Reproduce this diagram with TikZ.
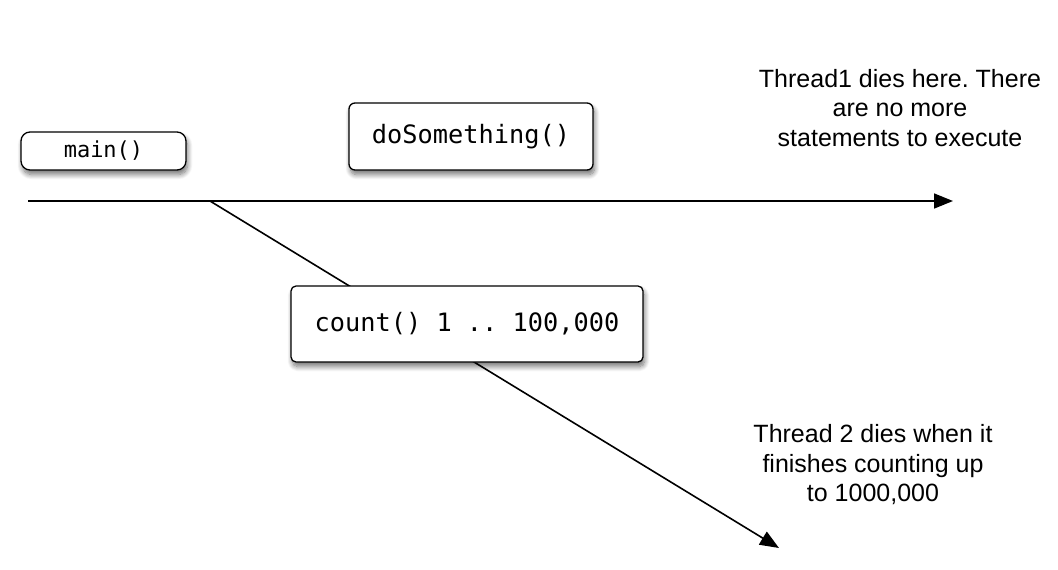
\documentclass[tikz,border=0pt]{standalone}
\usepackage{fontspec}
\setmainfont{Liberation Sans}
\newfontfamily\codefont{DejaVu Sans Mono}
\usetikzlibrary{arrows.meta,shadows.blur}
\frenchspacing
\begin{document}
\begin{tikzpicture}[x=1pt,y=-1pt,
  codebox/.style={draw=black, line width=1.3pt, fill=white, inner sep=0pt,
    blur shadow={shadow xshift=1.5pt, shadow yshift=-4.5pt, shadow blur steps=10, shadow blur radius=5pt, shadow opacity=55}},
  thread/.style={line width=1.6pt, -{Triangle[length=19pt,width=15pt]}},
  note/.style={align=center, inner sep=0pt, font=\fontsize{25}{29.5}\selectfont}]
\useasboundingbox (0,0) rectangle (1058,570);
\coordinate (start) at (28,201);
\coordinate (fork) at (210,201);
\coordinate (end1) at (953,201);
\coordinate (end2) at (779,548);
\draw[thread] (start) -- (end1);
\draw[thread] (fork) -- (end2);
\node[codebox, rounded corners=9pt, minimum width=165pt, minimum height=38pt,
  font=\codefont\fontsize{22}{26}\selectfont] (main) at (103.5,151) {main()};
\node[codebox, rounded corners=6pt, minimum width=244pt, minimum height=67pt,
  font=\codefont\fontsize{25.3}{29}\selectfont] (dosth) at (471,136.5) {doSomething()};
\node[codebox, rounded corners=5pt, minimum width=352pt, minimum height=76pt,
  font=\codefont\fontsize{25.3}{29}\selectfont] (count) at (467,324) {count() 1 .. 100,000};
\node[note] (t1) at (900,108) {Thread1 dies here. There\\are no more\\statements to execute};
\node[note] (t2) at (873,465) {Thread 2 dies when it\\finishes counting up\\to 1000,000};
\end{tikzpicture}
\end{document}
